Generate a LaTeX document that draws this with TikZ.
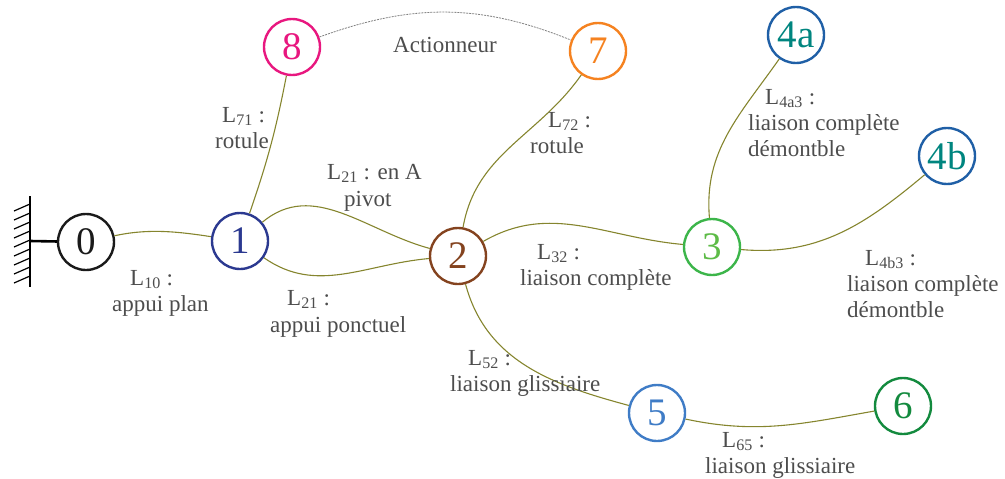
\documentclass[tikz,border=0pt]{standalone}
\usepackage{fontspec}
\setmainfont{Liberation Serif}
\definecolor{txt}{HTML}{4D4D4D}
\definecolor{olive}{HTML}{85852E}
\definecolor{cZero}{HTML}{1A1A1A}
\definecolor{cOne}{HTML}{2B3990}
\definecolor{cEight}{HTML}{E8177F}
\definecolor{cSeven}{HTML}{F58220}
\definecolor{cTwo}{HTML}{84431F}
\definecolor{cThreeB}{HTML}{3CB54A}
\definecolor{cThreeT}{HTML}{5DBB47}
\definecolor{cFourB}{HTML}{1F5FA6}
\definecolor{cFourT}{HTML}{00857F}
\definecolor{cFive}{HTML}{3F7CC6}
\definecolor{cSix}{HTML}{138A3E}
\tikzset{
  part/.style={circle,draw=#1,text=#1,line width=2.4pt,minimum size=56pt,inner sep=0pt,font=\fontsize{39}{39}\selectfont},
  lbl/.style={anchor=base west,inner sep=0pt,text=txt,font=\fontsize{23}{26}\selectfont},
  link/.style={draw=olive,line width=1.1pt},
  act/.style={draw=gray,line width=0.8pt,dash pattern=on 2pt off 1pt},
}
\begin{document}
\begin{tikzpicture}[x=1pt,y=-1pt]
\useasboundingbox (0,0) rectangle (1005,479);
% ground
\coordinate (g) at (30,241);
\draw[line width=2.6pt] (30,196) -- (30,287);
\foreach \yy in {204,213,222,231,240,249,258,267,276}
  \draw[line width=1.2pt] (30,\yy) -- (14,\yy+7);
% nodes
\node[part=cZero] (n0) at (86,242) {0};
\node[part=cOne] (n1) at (240,241) {1};
\node[part=cEight] (n8) at (292,47) {8};
\node[part=cSeven] (n7) at (598,51) {7};
\node[part=cTwo] (n2) at (458,256) {2};
\node[part=cThreeB,text=cThreeT] (n3) at (712,247) {3};
\node[part=cFourB,text=cFourT] (n4a) at (796,35) {4a};
\node[part=cFourB,text=cFourT] (n4b) at (947,156) {4b};
\node[part=cFive] (n5) at (657,413) {5};
\node[part=cSix] (n6) at (903,406) {6};
\draw[line width=2.6pt] (g) -- (n0);
% connectors
\draw[link] (n0) .. controls (150,228) and (180,232) .. (n1);
\draw[link] (n1) to[bend right=4] (n8);
\draw[link] (n1) to[out=40,in=165] (n2);
\draw[link] (n1) to[out=-35,in=185] (n2);
\draw[link] (n2) to[out=80,in=-125] (n7);
\draw[link] (n2) to[out=30,in=175] (n3);
\draw[link] (n2) to[out=-75,in=165] (n5);
\draw[link] (n3) to[out=95,in=-125] (n4a);
\draw[link] (n3) to[out=-5,in=-140] (n4b);
\draw[link] (n5) to[out=-12,in=-170] (n6);
\draw[act] (n8) to[out=20,in=158] (n7);
% labels
\node[lbl] (t10a) at (130,285) {L\textsubscript{10} :};
\node[lbl] (t10b) at (112,311) {appui plan};
\node[lbl] (t71a) at (222,122) {L\textsubscript{71} :};
\node[lbl] (t71b) at (215,148) {rotule};
\node[lbl] (t21a) at (327,179) {L\textsubscript{21} : en A};
\node[lbl] (t21b) at (344,206) {pivot};
\node[lbl] (t21c) at (287,305) {L\textsubscript{21} :};
\node[lbl] (t21d) at (270,332) {appui ponctuel};
\node[lbl] (tact) at (393,52) {Actionneur};
\node[lbl] (t72a) at (548,127) {L\textsubscript{72} :};
\node[lbl] (t72b) at (530,153) {rotule};
\node[lbl] (t32a) at (537,259) {L\textsubscript{32} :};
\node[lbl] (t32b) at (520,285) {liaison complète};
\node[lbl] (t4aa) at (765,104) {L\textsubscript{4a3} :};
\node[lbl] (t4ab) at (748,130) {liaison complète};
\node[lbl] (t4ac) at (748,156) {démontble};
\node[lbl] (t4ba) at (865,265) {L\textsubscript{4b3} :};
\node[lbl] (t4bb) at (847,291) {liaison complète};
\node[lbl] (t4bc) at (847,317) {démontble};
\node[lbl] (t52a) at (468,365) {L\textsubscript{52} :};
\node[lbl] (t52b) at (450,391) {liaison glissiaire};
\node[lbl] (t65a) at (722,447) {L\textsubscript{65} :};
\node[lbl] (t65b) at (705,473) {liaison glissiaire};
\end{tikzpicture}
\end{document}
